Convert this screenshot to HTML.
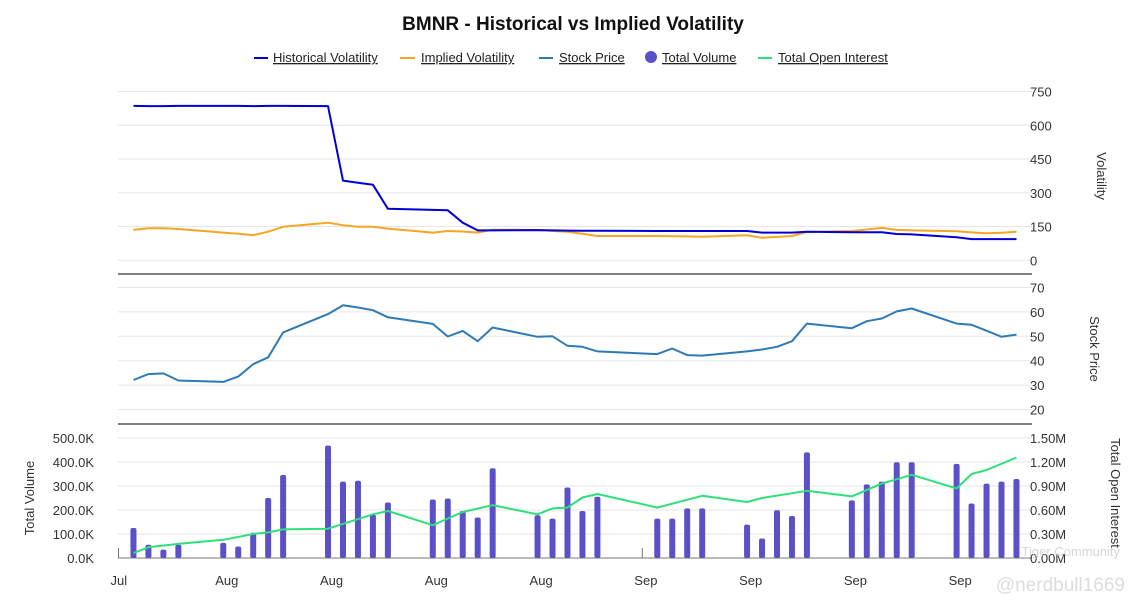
<!DOCTYPE html>
<html><head><meta charset="utf-8"><style>
html,body{margin:0;padding:0;background:#fff;}
svg{display:block;font-family:"Liberation Sans",sans-serif;}
</style></head><body>
<svg id="c" width="1147" height="610">
<text x="573" y="30" text-anchor="middle" font-size="19" font-weight="bold" fill="#111">BMNR - Historical vs Implied Volatility</text>
<g font-size="13" fill="#222">
 <g><line x1="254" y1="58" x2="268" y2="58" stroke="#0000d6" stroke-width="2"/><text x="273" y="62" text-decoration="underline">Historical Volatility</text></g>
 <g><line x1="400" y1="58" x2="415" y2="58" stroke="#f5a623" stroke-width="2"/><text x="421" y="62" text-decoration="underline">Implied Volatility</text></g>
 <g><line x1="539" y1="58" x2="553" y2="58" stroke="#2f7ab5" stroke-width="2"/><text x="559" y="62" text-decoration="underline">Stock Price</text></g>
 <g><circle cx="651" cy="57" r="6" fill="#5a50c8"/><text x="662" y="62" text-decoration="underline">Total Volume</text></g>
 <g><line x1="758" y1="58" x2="772" y2="58" stroke="#2ee07a" stroke-width="2"/><text x="778" y="62" text-decoration="underline">Total Open Interest</text></g>
</g>
<g id="plot"></g>
<text x="1120" y="556" text-anchor="end" font-size="13" fill="#ccc" opacity="0.8">Tiger Community</text>
<text x="1125" y="591" text-anchor="end" font-size="19" fill="#ddd">@nerdbull1669</text>
</svg>
<script>
const days=[1,2,3,4,7,8,9,10,11,14,15,16,17,18,21,22,23,24,25,28,29,30,31,32,36,37,38,39,42,43,44,45,46,49,50,51,52,53,56,57,58,59,60];
const histVol=[686,685,685,686,686,686,685,686,686,685,354,345,336,229,224,222,167,133,133,134,133,132,131,131,130,130,130,130,130,123,123,123,127,125,125,125,117,115,102,94,94,94,94];
const implVol=[135,142,142,139,123,118,112,127,149,167,156,149,149,141,123,130,128,123,136,135,130,127,118,108,108,107,106,105,111,100,104,108,126,130,137,144,135,133,129,124,120,122,127];
const price=[32.1,34.5,34.8,31.9,31.3,33.5,38.6,41.4,51.6,59.1,62.7,61.8,60.7,57.8,55.1,49.9,52.2,48.0,53.6,49.8,50.0,46.1,45.7,43.8,42.7,45.0,42.3,42.1,43.8,44.6,45.7,48.0,55.2,53.3,56.2,57.3,60.2,61.4,55.2,54.7,52.3,49.8,50.7];
const volumeK=[125,55,35,55,63,48,105,250,346,468,318,322,180,231,244,248,196,169,374,178,164,294,196,255,164,164,207,207,139,81,199,175,440,240,307,318,399,399,392,227,310,318,329];
const oiDays=[1,2,4,7,9,10,11,14,17,18,21,23,25,28,29,30,31,32,36,39,42,43,46,49,51,53,56,57,58,60];
const oiM=[0.063,0.134,0.176,0.227,0.30,0.32,0.357,0.366,0.546,0.588,0.41,0.575,0.66,0.546,0.62,0.63,0.756,0.80,0.63,0.777,0.70,0.75,0.84,0.77,0.93,1.04,0.87,1.05,1.10,1.256];
const volTicks=[0,150,300,450,600,750];
const priceTicks=[20,30,40,50,60,70];
const volumeTicks=["0.0K","100.0K","200.0K","300.0K","400.0K","500.0K"];
const oiTicks=["0.00M","0.30M","0.60M","0.90M","1.20M","1.50M"];
const xTickDays=[0,7,14,21,28,35,42,49,56];
const xTickLabels=["Jul","Aug","Aug","Aug","Aug","Sep","Sep","Sep","Sep"];

const NS="http://www.w3.org/2000/svg";
const g=document.getElementById('plot');
function mk(t,a,txt){const e=document.createElementNS(NS,t);for(const k in a)e.setAttribute(k,a[k]);if(txt!=null)e.textContent=txt;g.appendChild(e);return e;}
const L=118,R=1032;
const x=d=>118.5+d*14.966;
const yVol=v=>260.3-v*168.8/750;
const yPrice=v=>409.5-(v-20)*2.44;
const yVolume=v=>558-v*120/500;
const yOI=v=>558-v*120/1.5;

// gridlines & axis labels
volTicks.forEach(t=>{let l=mk('line',{x1:L,x2:R,y1:yVol(t),y2:yVol(t),stroke:'#e6e6e6'});

let e=mk('text',{x:1030,y:yVol(t)+5,'font-size':13,fill:'#333'},t);
});
priceTicks.forEach(t=>{let l=mk('line',{x1:L,x2:R,y1:yPrice(t),y2:yPrice(t),stroke:'#e6e6e6'});

let e=mk('text',{x:1030,y:yPrice(t)+5,'font-size':13,fill:'#333'},t);
});
volumeTicks.forEach((t,i)=>{const y=yVolume(i*100);let l=mk('line',{x1:L,x2:R,y1:y,y2:y,stroke:i==0?'#777':'#e6e6e6'});

let e=mk('text',{x:94,y:y+5,'font-size':13,fill:'#333','text-anchor':'end'},t);

let f=mk('text',{x:1030,y:y+5,'font-size':13,fill:'#333'},oiTicks[i]);
});
[274,424].forEach(y=>{let l=mk('line',{x1:L,x2:R,y1:y,y2:y,stroke:'#555','stroke-width':1.5});
});
xTickDays.forEach((d,i)=>{let e=mk('text',{x:x(d)-8,y:585,'font-size':13,fill:'#333'},xTickLabels[i]);
});
[[x(0),548],[x(35),548]].forEach(p=>{let l=mk('line',{x1:p[0],x2:p[0],y1:p[1],y2:558,stroke:'#777'});
});

// axis titles
let t1=mk('text',{transform:'translate(1097,176) rotate(90)','text-anchor':'middle','font-size':13,fill:'#333'},'Volatility');

let t2=mk('text',{transform:'translate(1090,349) rotate(90)','text-anchor':'middle','font-size':13,fill:'#333'},'Stock Price');

let t3=mk('text',{transform:'translate(1111,493) rotate(90)','text-anchor':'middle','font-size':13,fill:'#333'},'Total Open Interest');

let t4=mk('text',{transform:'translate(34,498) rotate(-90)','text-anchor':'middle','font-size':13,fill:'#333'},'Total Volume');


// bars
days.forEach((d,i)=>{const y=yVolume(volumeK[i]);
let b=mk('rect',{x:x(d)-3,y:y,width:6,height:558-y,rx:2,fill:'#5a50c8'});
});

function line(xs,ys,fx,fy,col,name){const pts=xs.map((d,i)=>x(d).toFixed(1)+','+fy(ys[i]).toFixed(1)).join(' ');
let p=mk('polyline',{points:pts,fill:'none',stroke:col,'stroke-width':2,'stroke-linejoin':'round'});
}
line(oiDays,oiM,x,yOI,'#2ee07a','open-interest-line');
line(days,implVol,x,yVol,'#f5a623','implied-volatility-line');
line(days,histVol,x,yVol,'#0000d6','historical-volatility-line');
line(days,price,x,yPrice,'#2f7ab5','stock-price-line');
</script>
</body></html>
